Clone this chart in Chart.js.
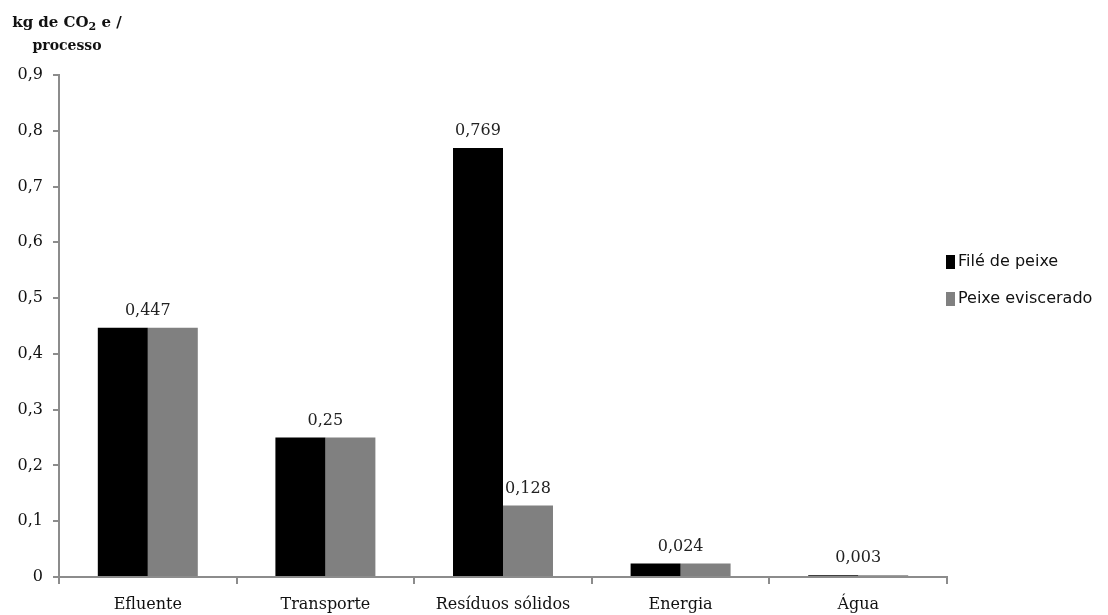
<!DOCTYPE html>
<html>
<head>
<meta charset="utf-8">
<script src="https://cdn.jsdelivr.net/npm/chart.js@4.4.1/dist/chart.umd.min.js"></script>
<style>
  html, body { margin: 0; padding: 0; background: #fff; }
  #wrap { width: 1108px; height: 615px; position: relative; }
</style>
</head>
<body>
<div id="wrap"><canvas id="c" width="1108" height="615"></canvas></div>
<script>
// Emissões por etapa do processo (kg de CO2 e / processo)
const categories = ['Efluente', 'Transporte', 'Resíduos sólidos', 'Energia', 'Água'];
const fileDePeixe = [0.447, 0.25, 0.769, 0.024, 0.003];
const peixeEviscerado = [0.447, 0.25, 0.128, 0.024, 0.003];
const seriesNames = ['Filé de peixe', 'Peixe eviscerado'];
const yTicks = [0, 0.1, 0.2, 0.3, 0.4, 0.5, 0.6, 0.7, 0.8, 0.9];

const serif = '"DejaVu Serif", "Liberation Serif", serif';
const sans = '"DejaVu Sans", "Open Sans", sans-serif';
const fmt = v => v === 0 ? '0' : String(v).replace('.', ',');

// Value labels: one label over the pair when both bars are equal, otherwise one per bar
const valueLabels = {
  id: 'valueLabels',
  afterDatasetsDraw(chart) {
    const ctx = chart.ctx;
    const m0 = chart.getDatasetMeta(0).data;
    const m1 = chart.getDatasetMeta(1).data;
    const ds = chart.data.datasets;
    ctx.save();
    ctx.font = '16px ' + serif;
    ctx.fillStyle = '#222';
    ctx.textAlign = 'center';
    ctx.textBaseline = 'bottom';
    categories.forEach((c, i) => {
      const a = ds[0].data[i], b = ds[1].data[i];
      if (a === b) {
        const x = (m0[i].x + m1[i].x) / 2;
        const y = Math.min(m0[i].y, m1[i].y);
        ctx.fillText(fmt(a), x, y - 9);
      } else {
        ctx.fillText(fmt(a), m0[i].x, m0[i].y - 9);
        ctx.fillText(fmt(b), m1[i].x, m1[i].y - 9);
      }
    });
    ctx.restore();
  }
};

// Axis title in the top-left corner, with subscript 2
const axisTitle = {
  id: 'axisTitle',
  afterDraw(chart) {
    const ctx = chart.ctx;
    ctx.save();
    ctx.fillStyle = '#111';
    ctx.textBaseline = 'alphabetic';
    const big = 'bold 15px ' + serif, small = 'bold 11px ' + serif;
    const parts = [['kg de CO', big, 0], ['2', small, 3], [' e /', big, 0]];
    let w = 0;
    parts.forEach(p => { ctx.font = p[1]; w += ctx.measureText(p[0]).width; });
    let x = 67 - w / 2;
    ctx.textAlign = 'left';
    parts.forEach(p => {
      ctx.font = p[1];
      ctx.fillText(p[0], x, 27 + p[2]);
      x += ctx.measureText(p[0]).width;
    });
    ctx.font = 'bold 14px ' + serif;
    ctx.textAlign = 'center';
    ctx.fillText('processo', 67, 50);
    ctx.restore();
  }
};

// Legend on the right side
const sideLegend = {
  id: 'sideLegend',
  afterDraw(chart) {
    const ctx = chart.ctx;
    ctx.save();
    ctx.font = '16px ' + sans;
    ctx.textBaseline = 'middle';
    ctx.textAlign = 'left';
    chart.data.datasets.forEach((d, i) => {
      const y = 262 + i * 37;
      ctx.fillStyle = d.backgroundColor;
      ctx.fillRect(946, y - 7, 9, 14);
      ctx.fillStyle = '#111';
      ctx.fillText(d.label, 958, y);
    });
    ctx.restore();
  }
};

new Chart(document.getElementById('c'), {
  type: 'bar',
  data: {
    labels: categories,
    datasets: [
      { label: seriesNames[0], data: fileDePeixe, backgroundColor: '#000000' },
      { label: seriesNames[1], data: peixeEviscerado, backgroundColor: '#808080' }
    ]
  },
  options: {
    responsive: false,
    animation: false,
    layout: { padding: { top: 75, right: 161, left: 0, bottom: 0 } },
    datasets: { bar: { categoryPercentage: 0.563, barPercentage: 1.0 } },
    plugins: { legend: { display: false }, tooltip: { enabled: false } },
    scales: {
      x: {
        grid: { display: true, drawOnChartArea: false, drawTicks: true, tickLength: 7, color: '#8c8c8c', lineWidth: 2 },
        border: { display: true, color: '#8c8c8c', width: 2 },
        ticks: { color: '#111', font: { family: serif, size: 16 }, padding: 11, maxRotation: 0 },
        afterFit(s) { s.height = 38; }
      },
      y: {
        min: 0, max: 0.9,
        afterBuildTicks(s) { s.ticks = yTicks.map(v => ({ value: v })); },
        grid: { display: true, drawOnChartArea: false, drawTicks: true, tickLength: 6, color: '#8c8c8c', lineWidth: 2 },
        border: { display: true, color: '#8c8c8c', width: 2 },
        ticks: { color: '#111', font: { family: serif, size: 16 }, padding: 10, callback: v => fmt(Math.round(v * 10) / 10) },
        afterFit(s) { s.width = 59; }
      }
    }
  },
  plugins: [valueLabels, axisTitle, sideLegend]
});
</script>
</body>
</html>
